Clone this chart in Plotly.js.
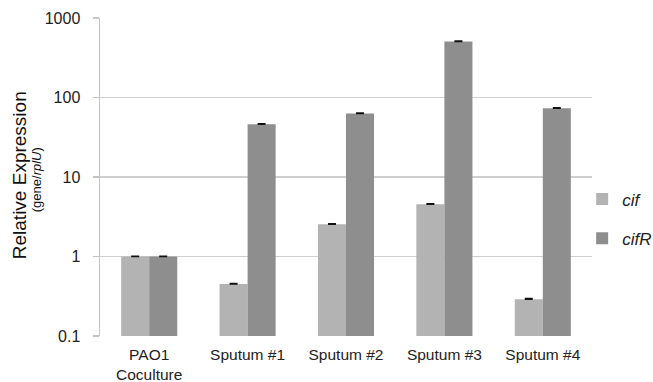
<!DOCTYPE html>
<html>
<head>
<meta charset="utf-8">
<script src="https://cdn.plot.ly/plotly-3.0.1.min.js"></script>
<style>html,body{margin:0;padding:0;background:#fff;}#chart{width:653px;height:382px;}</style>
</head>
<body>
<div id="chart"></div>
<script>
var categories = ["PAO1<br>Coculture", "Sputum #1", "Sputum #2", "Sputum #3", "Sputum #4"];
var cifValues = [1.0, 0.45, 2.54, 4.54, 0.29];
var cifErrors = [0.01, 0.008, 0.04, 0.08, 0.006];
var cifRValues = [1.0, 46, 63, 505, 73];
var cifRErrors = [0.01, 0.8, 1.0, 8, 1.2];
var yTickVals = [0.1, 1, 10, 100, 1000];
var yTickText = ["0.1", "1", "10", "100", "1000"];

var font = "Liberation Sans, Arial, sans-serif";
var traces = [
  {
    type: "bar", name: "<i>cif</i>", x: categories, y: cifValues,
    marker: {color: "#b3b3b3"},
    error_y: {type: "data", array: cifErrors, arrayminus: cifErrors.map(function(){return 0;}), visible: true, color: "#111", thickness: 1.5, width: 4},
    legendgroup: "a"
  },
  {
    type: "bar", name: "<i>cifR</i>", x: categories, y: cifRValues,
    marker: {color: "#8e8e8e"},
    error_y: {type: "data", array: cifRErrors, arrayminus: cifRErrors.map(function(){return 0;}), visible: true, color: "#111", thickness: 1.5, width: 4},
    legendgroup: "b"
  }
];
var layout = {
  width: 653, height: 382,
  margin: {l: 100, r: 61, t: 18, b: 46, autoexpand: false},
  paper_bgcolor: "#fff", plot_bgcolor: "#fff",
  barmode: "group", bargap: 0.43, bargroupgap: 0,
  font: {family: font, size: 16, color: "#222"},
  xaxis: {
    type: "category", showgrid: false, showline: false,
    ticks: "outside", ticklen: 4, tickcolor: "rgba(0,0,0,0)",
    tickfont: {family: font, size: 15.5, color: "#222"}, automargin: false
  },
  yaxis: {
    type: "log", range: [-1, 3], tickvals: yTickVals, ticktext: yTickText,
    showgrid: true, gridcolor: "#cfcfcf", gridwidth: 1.5,
    showline: true, linecolor: "#c4c4c4", linewidth: 1.5,
    ticks: "outside", ticklen: 6, tickcolor: "#c4c4c4", tickwidth: 1.5,
    ticklabelstandoff: 9,
    tickfont: {family: font, size: 16, color: "#222"}, automargin: false, zeroline: false
  },
  showlegend: true,
  legend: {
    x: 0.98, xanchor: "left", y: 0.368, yanchor: "middle",
    font: {family: font, size: 17, color: "#222"},
    tracegroupgap: 14, itemwidth: 30, bgcolor: "rgba(0,0,0,0)"
  },
  annotations: [
    {text: "Relative Expression", xref: "paper", yref: "paper", x: -0.163, y: 0.505, xanchor: "center", yanchor: "middle", textangle: -90, showarrow: false, font: {family: font, size: 19, color: "#111"}},
    {text: "(gene/<i>rplU</i>)", xref: "paper", yref: "paper", x: -0.13, y: 0.49, xanchor: "center", yanchor: "middle", textangle: -90, showarrow: false, font: {family: font, size: 13, color: "#111"}}
  ]
};
Plotly.newPlot("chart", traces, layout, {displayModeBar: false, staticPlot: true});
</script>
</body>
</html>
